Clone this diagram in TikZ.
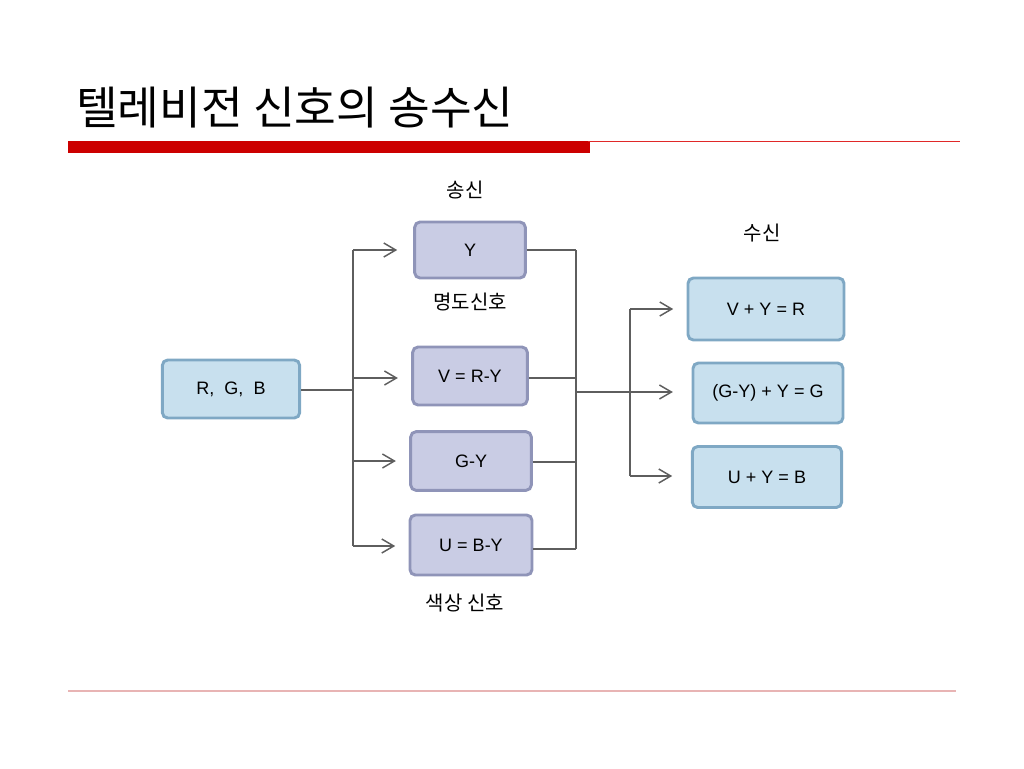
\documentclass[tikz,border=0pt]{standalone}
\usepackage{fontspec}
\setmainfont{Liberation Sans}
\newfontfamily\kr{Noto Sans CJK KR}
\usetikzlibrary{arrows.meta}
\definecolor{lavfill}{HTML}{C9CCE4}
\definecolor{lavdraw}{HTML}{8F94B8}
\definecolor{bluefill}{HTML}{C8E0EE}
\definecolor{bluedraw}{HTML}{7FA8C4}
\definecolor{wire}{HTML}{5E5E5E}
\definecolor{titlered}{HTML}{CC0000}
\definecolor{thinred}{HTML}{E02828}
\definecolor{footline}{HTML}{E8B4B4}
\begin{document}
\begin{tikzpicture}[x=0.75pt,y=-0.75pt,
  sendbox/.style={draw=lavdraw,fill=lavfill,line width=2.2pt,rounded corners=4pt,inner sep=0pt,font=\fontsize{13.5}{15}\selectfont},
  recvbox/.style={draw=bluedraw,fill=bluefill,line width=2.2pt,rounded corners=4pt,inner sep=0pt,font=\fontsize{13.5}{15}\selectfont},
  wireline/.style={draw=wire,line width=1.1pt},
  arr/.style={wireline,-{Straight Barb[length=9pt,width=10.5pt,line width=1.1pt]}},
  lab/.style={font=\kr\fontsize{15}{17}\selectfont}]
\path[use as bounding box] (0,0) rectangle (1024,768);
% title
\node[anchor=base west,inner sep=0pt,font=\kr\fontsize{34}{40}\selectfont] (title) at (76,124) {텔레비전 신호의 송수신};
\fill[titlered] (68,141) rectangle (590,153);
\draw[thinred,line width=1.1pt] (588,141.7) -- (960,141.7);
\draw[footline,line width=0.8pt] (68,691) -- (956,691);
% nodes
\node[recvbox,minimum width=103pt,minimum height=43.5pt] (rgb) at (231,389) {R,\ \ G,\ \ B};
\node[sendbox,minimum width=83pt,minimum height=42pt] (y) at (470,250) {Y};
\node[sendbox,minimum width=86pt,minimum height=43.5pt] (v) at (470,376) {V = R-Y};
\node[sendbox,minimum width=90.5pt,minimum height=44pt] (g) at (471,461) {G-Y};
\node[sendbox,minimum width=91.5pt,minimum height=45pt] (u) at (471,545) {U = B-Y};
\node[recvbox,minimum width=117pt,minimum height=46.5pt] (r1) at (766,309) {V + Y = R};
\node[recvbox,minimum width=112.5pt,minimum height=45pt] (r2) at (768,393) {(G-Y) + Y = G};
\node[recvbox,minimum width=112pt,minimum height=45.75pt] (r3) at (767,477) {U + Y = B};
% labels
\node[lab] (l1) at (465,190) {송신};
\node[lab] (l2) at (762,233) {수신};
\node[lab] (l3) at (470,302) {명도신호};
\node[lab] (l4) at (465,603) {색상 신호};
% coordinates
\coordinate (b1t) at (353,250);
\coordinate (b1m) at (353,390);
\coordinate (b1b) at (353,546);
\coordinate (b2t) at (576,250);
\coordinate (b2m) at (576,392);
\coordinate (b2b) at (576,549);
\coordinate (b3t) at (630,309);
\coordinate (b3b) at (630,476);
% left bus
\draw[wireline] (rgb.east |- b1m) -- (b1m);
\draw[wireline] (b1t) -- (b1b);
\draw[arr] (b1t) -- ([xshift=-12]y.west);
\draw[arr] (353,378) -- ([xshift=-10]v.west |- 353,378);
\draw[arr] (353,461) -- ([xshift=-10]g.west);
\draw[arr] (b1b) -- ([xshift=-10]u.west |- b1b);
% right bus
\draw[wireline] (y.east) -- (b2t);
\draw[wireline] (v.east |- 576,378) -- (576,378);
\draw[wireline] (g.east |- 576,462) -- (576,462);
\draw[wireline] (u.east |- b2b) -- (b2b);
\draw[wireline] (b2t) -- (b2b);
% to receivers
\draw[arr] (b2m) -- ([xshift=-14]r2.west |- b2m);
\draw[wireline] (b3t) -- (b3b);
\draw[arr] (b3t) -- ([xshift=-10]r1.west);
\draw[arr] (b3b) -- ([xshift=-14]r3.west |- b3b);
\end{tikzpicture}
\end{document}
